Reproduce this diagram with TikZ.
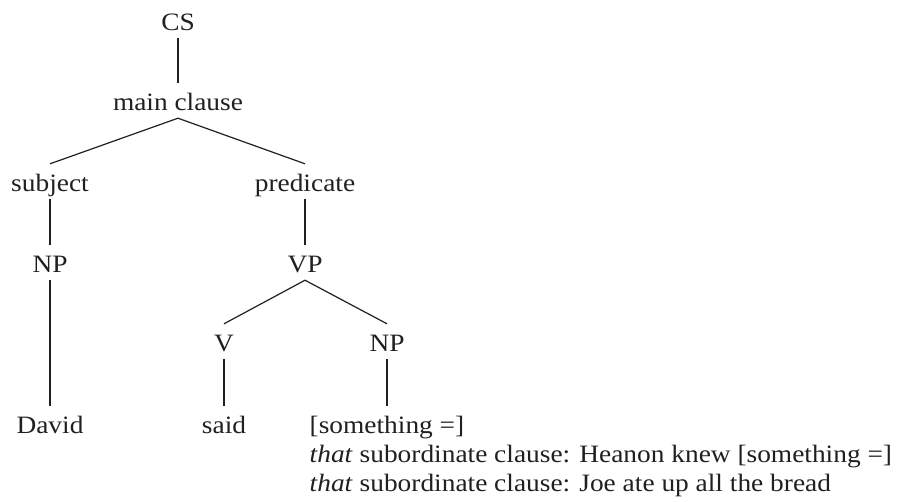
\documentclass[tikz,border=0pt]{standalone}
\usepackage{fontspec}
\setmainfont[FakeStretch=1.095]{Liberation Serif}
\definecolor{ink}{HTML}{231F20}
\begin{document}
\begin{tikzpicture}[x=1pt,y=-1pt,
  lab/.style={anchor=base, inner xsep=0pt, inner ysep=8pt,
    text height=19pt, text depth=0pt, text=ink,
    font=\fontsize{25}{29}\selectfont},
  txt/.style={anchor=base west, inner sep=0pt, text=ink,
    font=\fontsize{25}{29}\selectfont},
  branch/.style={draw=ink, line width=1.2pt}]
\useasboundingbox (0,0) rectangle (904,501);

% tree nodes, placed at their baselines
\node[lab] (cs)    at (178,30)  {CS};
\node[lab] (main)  at (178,110) {main clause};
\node[lab] (subj)  at (50,191)  {subject};
\node[lab] (pred)  at (305,191) {predicate};
\node[lab] (np1)   at (50,272)  {NP};
\node[lab] (vp)    at (305,272) {VP};
\node[lab] (v)     at (224,351) {V};
\node[lab] (np2)   at (387,351) {NP};
\node[lab] (david) at (50,433)  {David};
\node[lab] (said)  at (224,433) {said};
\node[lab] (thing) at (387,433) {[something =]};

% continuation lines of the object NP
\node[txt] (sub1) at (thing.base west |- 0,462) {\textit{that} subordinate clause: Heanon knew [something =]};
\node[txt] (sub2) at (thing.base west |- 0,491) {\textit{that} subordinate clause: Joe ate up all the bread};

% branches
\draw[branch] (cs.south)   -- (main.north);
\draw[branch] (main.south) -- (subj.north);
\draw[branch] (main.south) -- (pred.north);
\draw[branch] (subj.south) -- (np1.north);
\draw[branch] (pred.south) -- (vp.north);
\draw[branch] (np1.south)  -- (david.north);
\draw[branch] (vp.south)   -- (v.north);
\draw[branch] (vp.south)   -- (np2.north);
\draw[branch] (v.south)    -- (said.north);
\draw[branch] (np2.south)  -- (thing.north);
\end{tikzpicture}
\end{document}
